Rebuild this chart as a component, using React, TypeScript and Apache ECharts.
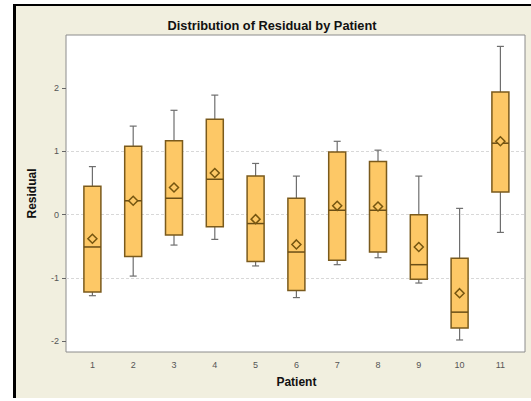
import React, { useEffect, useRef } from 'react';
import * as echarts from 'echarts';

const patients = ['1', '2', '3', '4', '5', '6', '7', '8', '9', '10', '11'];
const whiskerLow = [-1.28, -0.97, -0.48, -0.39, -0.81, -1.31, -0.79, -0.68, -1.08, -1.98, -0.28];
const q1 = [-1.22, -0.66, -0.32, -0.19, -0.74, -1.2, -0.72, -0.59, -1.02, -1.79, 0.36];
const median = [-0.51, 0.22, 0.26, 0.56, -0.14, -0.59, 0.07, 0.07, -0.79, -1.54, 1.13];
const q3 = [0.45, 1.08, 1.17, 1.51, 0.61, 0.26, 0.99, 0.84, 0.0, -0.69, 1.94];
const whiskerHigh = [0.76, 1.4, 1.65, 1.89, 0.81, 0.61, 1.16, 1.02, 0.61, 0.1, 2.66];
const means = [-0.38, 0.22, 0.43, 0.66, -0.07, -0.47, 0.14, 0.13, -0.51, -1.24, 1.16];
const yTicks = [-2, -1, 0, 1, 2];

const FONT = '"Liberation Sans", Arial, sans-serif';
const BOX_FILL = '#FDC866';
const BOX_STROKE = '#7a5a1c';
const WHISKER = '#6e6e6e';

export default function App() {
  const ref = useRef<HTMLDivElement>(null);
  useEffect(() => {
    const chart = echarts.init(ref.current!, null, { renderer: 'svg' });
    const boxData = patients.map((_, i) => [i, whiskerLow[i], q1[i], median[i], q3[i], whiskerHigh[i]]);
    const meanData = patients.map((_, i) => [i, means[i]]);
    const yMin = -2.17;
    const yMax = 2.84;
    const option: any = {
      animation: false,
      backgroundColor: '#ffffff',
      graphic: [
        { type: 'rect', z: -10, shape: { x: 14, y: 5, width: 517, height: 393 }, style: { fill: '#F1EFDF' } },
        { type: 'rect', z: -9, shape: { x: 13, y: 4, width: 3, height: 394 }, style: { fill: '#000' } },
        { type: 'rect', z: -9, shape: { x: 13, y: 4, width: 518, height: 2 }, style: { fill: '#000' } },
        {
          type: 'text',
          x: 272,
          y: 25,
          style: {
            text: 'Distribution of Residual by Patient',
            align: 'center',
            verticalAlign: 'middle',
            font: 'bold 12.8px ' + FONT,
            fill: '#111',
          },
        },
      ],
      grid: [
        {
          left: 66,
          top: 35,
          width: 459,
          height: 317,
          show: true,
          backgroundColor: '#ffffff',
          borderColor: '#8c8c8c',
          borderWidth: 1,
        },
        { left: 72, top: 35, width: 448.8, height: 317 },
      ],
      xAxis: [
        { gridIndex: 0, type: 'value', min: 0, max: 1, show: false },
        {
          gridIndex: 1,
          type: 'category',
          data: patients,
          axisLine: { show: false },
          axisTick: { show: true, alignWithLabel: true, length: 4, lineStyle: { color: '#666' } },
          axisLabel: { color: '#555', fontSize: 9, margin: 8, fontFamily: FONT },
          splitLine: { show: false },
          name: 'Patient',
          nameLocation: 'middle',
          nameGap: 24,
          nameTextStyle: { fontWeight: 'bold', fontSize: 12, color: '#111', fontFamily: FONT },
        },
      ],
      yAxis: [
        {
          gridIndex: 0,
          type: 'value',
          min: yMin,
          max: yMax,
          axisLine: { show: false },
          axisTick: { show: true, length: 4, lineStyle: { color: '#666' }, customValues: yTicks },
          axisLabel: { color: '#555', fontSize: 9, margin: 7, fontFamily: FONT, customValues: yTicks },
          splitLine: {
            show: true,
            showMinLine: false,
            showMaxLine: false,
            lineStyle: { color: '#d8d8d8', type: [3, 2], width: 1 },
          },
          name: 'Residual',
          nameLocation: 'middle',
          nameGap: 28,
          nameTextStyle: { fontWeight: 'bold', fontSize: 12, color: '#111', fontFamily: FONT },
        },
        { gridIndex: 1, type: 'value', min: yMin, max: yMax, show: false, splitLine: { show: false } },
      ],
      series: [
        {
          type: 'custom',
          xAxisIndex: 1,
          yAxisIndex: 1,
          data: boxData,
          encode: { x: 0, y: [1, 2, 3, 4, 5] },
          z: 3,
          renderItem: (params: any, api: any) => {
            const x = api.value(0);
            const lo = api.coord([x, api.value(1)]);
            const b = api.coord([x, api.value(2)]);
            const m = api.coord([x, api.value(3)]);
            const t = api.coord([x, api.value(4)]);
            const hi = api.coord([x, api.value(5)]);
            const cx = lo[0];
            const hw = 8.5;
            const cw = 3.5;
            const wStyle = { stroke: WHISKER, lineWidth: 1.2 };
            return {
              type: 'group',
              children: [
                { type: 'line', shape: { x1: cx, y1: hi[1], x2: cx, y2: t[1] }, style: wStyle },
                { type: 'line', shape: { x1: cx, y1: b[1], x2: cx, y2: lo[1] }, style: wStyle },
                { type: 'line', shape: { x1: cx - cw, y1: hi[1], x2: cx + cw, y2: hi[1] }, style: wStyle },
                { type: 'line', shape: { x1: cx - cw, y1: lo[1], x2: cx + cw, y2: lo[1] }, style: wStyle },
                {
                  type: 'rect',
                  shape: { x: cx - hw, y: t[1], width: 2 * hw, height: b[1] - t[1] },
                  style: { fill: BOX_FILL, stroke: BOX_STROKE, lineWidth: 1.5 },
                },
                {
                  type: 'line',
                  shape: { x1: cx - hw, y1: m[1], x2: cx + hw, y2: m[1] },
                  style: { stroke: '#6a4e16', lineWidth: 1.5 },
                },
              ],
            };
          },
        },
        {
          type: 'scatter',
          xAxisIndex: 1,
          yAxisIndex: 1,
          data: meanData,
          symbol: 'diamond',
          symbolSize: 9,
          z: 5,
          itemStyle: { color: BOX_FILL, borderColor: '#765610', borderWidth: 1.5, opacity: 1 },
        },
      ],
    };
    chart.setOption(option);
    return () => chart.dispose();
  }, []);
  return (
    <div
      ref={ref}
      style={{ position: 'fixed', left: 0, top: 0, width: 531, height: 401 }}
    />
  );
}
